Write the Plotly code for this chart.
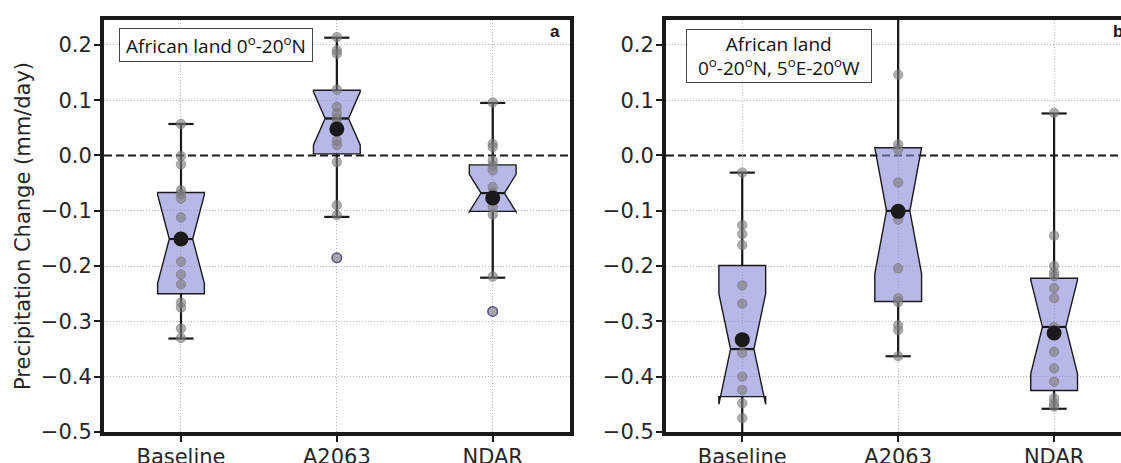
import plotly.graph_objects as go

W, H = 1121, 463

categories = ["Baseline", "A2063", "NDAR"]
y_tickvals = [-0.5, -0.4, -0.3, -0.2, -0.1, 0.0, 0.1, 0.2]
y_ticktext = ["\u22120.5", "\u22120.4", "\u22120.3", "\u22120.2", "\u22120.1", "0.0", "0.1", "0.2"]
y_gridvals = [v for v in y_tickvals if v != 0.0]  # zero is marked by the dashed line

# ---------- Panel a: African land 0-20N ----------
a_baseline_pts = [0.057, -0.001, -0.016, -0.063, -0.070, -0.078, -0.112, -0.192,
                  -0.215, -0.233, -0.266, -0.275, -0.313, -0.330]
a_a2063_pts = [0.214, 0.190, 0.184, 0.119, 0.088, 0.076, 0.067, 0.058, 0.027,
               0.019, -0.012, -0.090, -0.108, -0.185]
a_ndar_pts = [0.096, 0.021, 0.015, -0.009, -0.018, -0.027, -0.057, -0.068,
              -0.080, -0.093, -0.107, -0.219, -0.282]
a_q1 = [-0.250, 0.003, -0.101]
a_med = [-0.151, 0.067, -0.068]
a_q3 = [-0.067, 0.118, -0.017]
a_lo = [-0.331, -0.111, -0.221]
a_hi = [0.057, 0.213, 0.095]
a_notch = [0.080, 0.048, 0.034]
a_mean = [-0.151, 0.048, -0.077]
a_flier_cat = ["A2063", "NDAR"]
a_flier_val = [-0.185, -0.282]

# ---------- Panel b: African land 0-20N, 5E-20W ----------
b_baseline_pts = [-0.031, -0.126, -0.142, -0.162, -0.235, -0.268, -0.340, -0.357,
                  -0.400, -0.424, -0.448, -0.475, -0.560]
b_a2063_pts = [0.300, 0.146, 0.020, 0.011, -0.049, -0.101, -0.116, -0.204,
               -0.258, -0.265, -0.307, -0.316, -0.363]
b_ndar_pts = [0.077, -0.145, -0.200, -0.211, -0.218, -0.240, -0.258, -0.310,
              -0.320, -0.355, -0.385, -0.409, -0.439, -0.448, -0.454]
b_q1 = [-0.436, -0.264, -0.425]
b_med = [-0.350, -0.100, -0.310]
b_q3 = [-0.199, 0.014, -0.222]
b_lo = [-0.560, -0.363, -0.458]
b_hi = [-0.031, 0.300, 0.076]
b_notch = [0.100, 0.114, 0.085]
b_mean = [-0.333, -0.101, -0.321]

INK = "#1a1a1a"
FILL = "rgba(137,137,217,0.6)"
PT = "rgba(125,125,125,0.62)"
PT_EDGE = "rgba(110,110,110,0.6)"
GRID = "#b5b5b5"

fig = go.Figure()


def add_panel(xa, ya, pts_list, q1, med, q3, lo, hi, notch, mean, fl_cat=None, fl_val=None):
    fig.add_trace(go.Box(
        x=categories, q1=q1, median=med, q3=q3, lowerfence=lo, upperfence=hi,
        notched=True, notchspan=notch, notchwidth=0.25, width=0.3, whiskerwidth=0,
        boxpoints=False, fillcolor=FILL, line=dict(color=INK, width=1.4),
        xaxis=xa, yaxis=ya, hoverinfo="skip", showlegend=False))
    # whiskers (thicker)
    wx, wy = [], []
    for c, a1, b1, a2, b2 in zip(categories, q3, hi, q1, lo):
        wx += [c, c, None, c, c, None]
        wy += [a1, b1, None, a2, b2, None]
    fig.add_trace(go.Scatter(x=wx, y=wy, mode="lines", line=dict(color=INK, width=2.2),
                             xaxis=xa, yaxis=ya, hoverinfo="skip", showlegend=False))
    # caps
    fig.add_trace(go.Scatter(x=categories + categories, y=lo + hi, mode="markers",
                             marker=dict(symbol="line-ew", size=18,
                                         line=dict(color=INK, width=2.2)),
                             xaxis=xa, yaxis=ya, hoverinfo="skip", showlegend=False))
    # medians
    fig.add_trace(go.Scatter(x=categories, y=med, mode="markers",
                             marker=dict(symbol="line-ew", size=16.5,
                                         line=dict(color=INK, width=2.2)),
                             xaxis=xa, yaxis=ya, hoverinfo="skip", showlegend=False))
    # individual points
    px, py = [], []
    for c, pts in zip(categories, pts_list):
        px += [c] * len(pts)
        py += pts
    fig.add_trace(go.Scatter(x=px, y=py, mode="markers",
                             marker=dict(symbol="circle", size=9.5, color=PT,
                                         line=dict(color=PT_EDGE, width=0.8)),
                             xaxis=xa, yaxis=ya, hoverinfo="skip", showlegend=False))
    if fl_cat:
        fig.add_trace(go.Scatter(x=fl_cat, y=fl_val, mode="markers",
                                 marker=dict(symbol="circle", size=9.5,
                                             color="rgba(160,160,160,0.5)",
                                             line=dict(color="#5a5a96", width=1.6)),
                                 xaxis=xa, yaxis=ya, hoverinfo="skip", showlegend=False))
    # means
    fig.add_trace(go.Scatter(x=categories, y=mean, mode="markers",
                             marker=dict(symbol="circle", size=15, color=INK),
                             xaxis=xa, yaxis=ya, hoverinfo="skip", showlegend=False))


add_panel("x", "y", [a_baseline_pts, a_a2063_pts, a_ndar_pts],
          a_q1, a_med, a_q3, a_lo, a_hi, a_notch, a_mean, a_flier_cat, a_flier_val)
add_panel("x2", "y2", [b_baseline_pts, b_a2063_pts, b_ndar_pts],
          b_q1, b_med, b_q3, b_lo, b_hi, b_notch, b_mean)

tickfont = dict(family="DejaVu Sans", size=21, color="#262626")
ydom = [1 - 432 / H, 1 - 20 / H]
yrange = [-0.5, 0.245]

common_x = dict(type="category", categoryorder="array", categoryarray=categories,
                tickfont=tickfont, ticks="outside", ticklen=6, tickwidth=1.5,
                tickcolor=INK, showline=True, linewidth=4, linecolor=INK, mirror=True,
                showgrid=True, gridcolor=GRID, gridwidth=1, griddash="1px,2px",
                zeroline=False, automargin=False, fixedrange=True,
                ticklabelstandoff=-3)
common_y = dict(range=yrange, domain=ydom, tickvals=y_tickvals, ticktext=y_ticktext,
                tickfont=tickfont, ticks="outside", ticklen=6, tickwidth=1.5,
                tickcolor=INK, showline=True, linewidth=4, linecolor=INK,
                showgrid=False, ticklabelstandoff=-2,
                minor=dict(tickmode="array", tickvals=y_gridvals, showgrid=True,
                           gridcolor=GRID, gridwidth=1, griddash="1px,2px", ticks=""),
                zeroline=False, automargin=False, fixedrange=True)

fig.update_layout(
    width=W, height=H, margin=dict(l=0, r=0, t=0, b=0),
    paper_bgcolor="white", plot_bgcolor="white", showlegend=False,
    xaxis=dict(common_x, domain=[104 / W, 570 / W], range=[-0.494, 2.496], anchor="y"),
    yaxis=dict(common_y, anchor="x", mirror=True),
    xaxis2=dict(common_x, domain=[666 / W, 1.0], range=[-0.489, 2.429], anchor="y2"),
    yaxis2=dict(common_y, anchor="x2", mirror=False),
)

for xr, yr in (("x", "y"), ("x2", "y2")):
    fig.add_shape(type="line", xref=f"{xr} domain", x0=0, x1=1, yref=yr, y0=0, y1=0,
                  line=dict(color=INK, width=2, dash="8px,4px"), layer="below")

label_font = dict(family="Open Sans", size=19, color="#111111")
fig.add_annotation(xref="paper", yref="paper", x=119 / W, y=1 - 28 / H,
                   xanchor="left", yanchor="top",
                   text="African land 0<sup>o</sup>-20<sup>o</sup>N",
                   showarrow=False, font=label_font, bgcolor="white",
                   bordercolor="#444444", borderwidth=1, borderpad=0,
                   width=192, height=32, align="center", valign="middle")
fig.add_annotation(xref="paper", yref="paper", x=686 / W, y=1 - 29 / H,
                   xanchor="left", yanchor="top",
                   text="African land<br>0<sup>o</sup>-20<sup>o</sup>N, 5<sup>o</sup>E-20<sup>o</sup>W",
                   showarrow=False, font=label_font, bgcolor="white",
                   bordercolor="#444444", borderwidth=1, borderpad=0,
                   width=184, height=52, align="center", valign="middle")
fig.add_annotation(xref="paper", yref="paper", x=562 / W, y=1 - 31 / H,
                   xanchor="right", yanchor="middle", text="<b>a</b>", showarrow=False,
                   font=dict(family="Liberation Sans", size=17, color="#111111"))
fig.add_annotation(xref="paper", yref="paper", x=1125 / W, y=1 - 31 / H,
                   xanchor="right", yanchor="middle", text="<b>b</b>", showarrow=False,
                   font=dict(family="Liberation Sans", size=17, color="#111111"))
fig.add_annotation(xref="paper", yref="paper", x=23 / W, y=1 - 226 / H,
                   xanchor="center", yanchor="middle", textangle=-90,
                   text="Precipitation Change (mm/day)", showarrow=False,
                   font=dict(family="DejaVu Sans", size=21, color="#262626"))

fig.write_html("out.html", config={"displayModeBar": False},
               post_script="document.body.style.margin='0';document.body.style.overflow='hidden';")
